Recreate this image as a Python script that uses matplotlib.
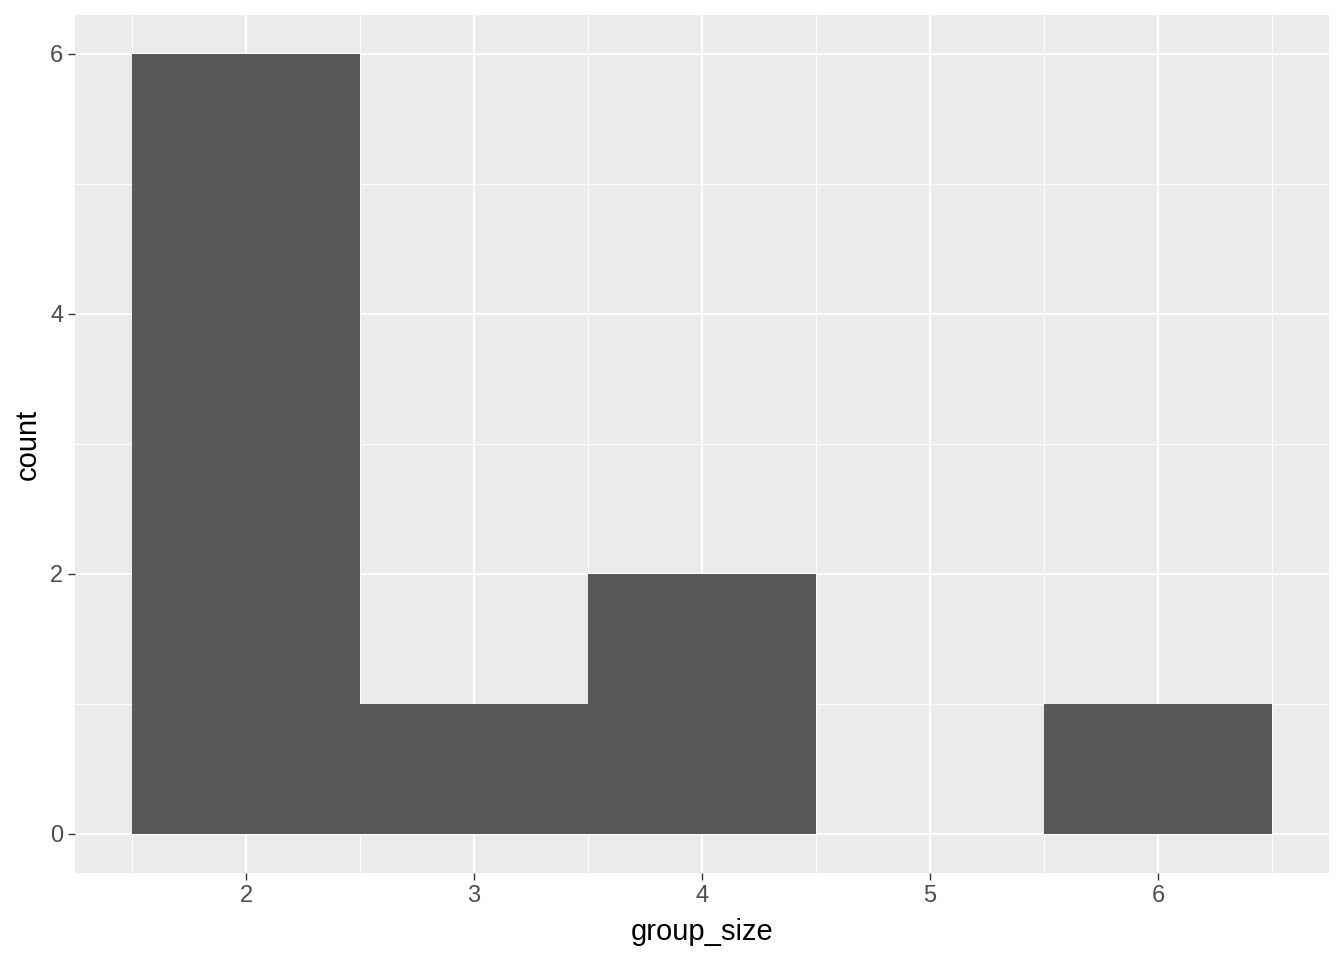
import matplotlib
matplotlib.use("Agg")
import matplotlib.pyplot as plt

group_size = [2, 3, 4, 5, 6]
counts = [6, 1, 2, 0, 1]
x_ticks = [2, 3, 4, 5, 6]
y_ticks = [0, 2, 4, 6]

plt.rcParams['font.family'] = ['Liberation Sans', 'DejaVu Sans']
fig = plt.figure(figsize=(13.44, 9.6), dpi=100)
ax = fig.add_axes([75/1344, 87/960, (1329-75)/1344, (873-15)/960])
ax.set_facecolor('#EBEBEB')
for s in ax.spines.values():
    s.set_visible(False)

ax.bar(group_size, counts, width=1.0, color='#595959', zorder=3)
ax.set_xlim(1.25, 6.75)
ax.set_ylim(-0.3, 6.3)
ax.set_xticks(x_ticks)
ax.set_yticks(y_ticks)
ax.set_xticks([1.5, 2.5, 3.5, 4.5, 5.5, 6.5], minor=True)
ax.set_yticks([1, 3, 5], minor=True)
ax.grid(which='major', color='white', linewidth=1.35, zorder=1)
ax.grid(which='minor', color='white', linewidth=0.7, zorder=1)
ax.tick_params(which='major', length=5.3, width=1.0, color='#333333',
               labelsize=17, labelcolor='#4D4D4D', pad=3)
ax.tick_params(which='minor', length=0)
ax.set_xlabel('group_size', fontsize=21, color='black', labelpad=8)
ax.set_ylabel('count', fontsize=21, color='black', labelpad=6)
fig.savefig('out.png', dpi=100)
